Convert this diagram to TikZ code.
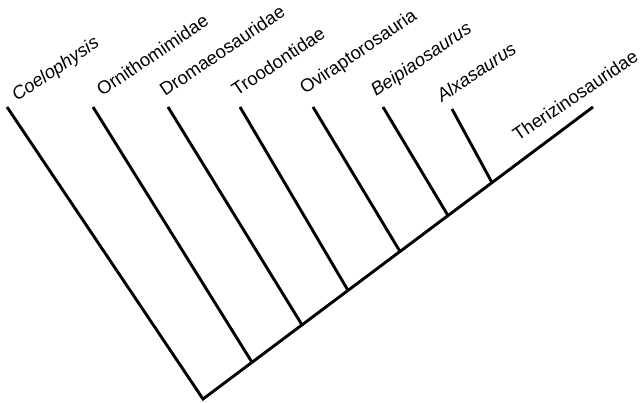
\documentclass[tikz,border=0pt]{standalone}
\usepackage{fontspec}
\setmainfont{Liberation Sans}
\begin{document}
\begin{tikzpicture}[x=1pt,y=-1pt,
  branch/.style={line width=2.9pt, line join=miter},
  taxon/.style={anchor=base west, inner sep=0pt, rotate=34,
    font=\fontsize{18.4}{20}\selectfont},
  genus/.style={taxon, font=\fontsize{18.4}{20}\selectfont\itshape}]
\useasboundingbox (0,0) rectangle (641,403);

% root of the tree and the end of the main stem
\coordinate (root) at (203,399);
\coordinate (stem) at (593,107);

% branching points along the stem
\coordinate (j2) at (252,362.3);
\coordinate (j3) at (302,324.9);
\coordinate (j4) at (348,290.4);
\coordinate (j5) at (400,251.5);
\coordinate (j6) at (448,215.6);
\coordinate (j7) at (492,182.6);

% upper ends of the terminal branches
\coordinate (t1) at (7,107);
\coordinate (t2) at (93,107);
\coordinate (t3) at (168,107);
\coordinate (t4) at (240,107);
\coordinate (t5) at (313,107);
\coordinate (t6) at (383,107);
\coordinate (t7) at (452,109);

% branches
\draw[branch] (t1) -- (root) -- (stem);
\draw[branch] (t2) -- (j2);
\draw[branch] (t3) -- (j3);
\draw[branch] (t4) -- (j4);
\draw[branch] (t5) -- (j5);
\draw[branch] (t6) -- (j6);
\draw[branch] (t7) -- (j7);

% taxon names
\node[genus] (n1) at (17,102) {Coelophysis};
\node[taxon] (n2) at (102,97) {Ornithomimidae};
\node[taxon] (n3) at (165,97) {Dromaeosauridae};
\node[taxon] (n4) at (237,97) {Troodontidae};
\node[taxon] (n5) at (305,95) {Oviraptorosauria};
\node[genus] (n6) at (376,97) {Beipiaosaurus};
\node[genus] (n7) at (442,103) {Alxasaurus};
\node[taxon] (n8) at (518,142) {Therizinosauridae};
\end{tikzpicture}
\end{document}
